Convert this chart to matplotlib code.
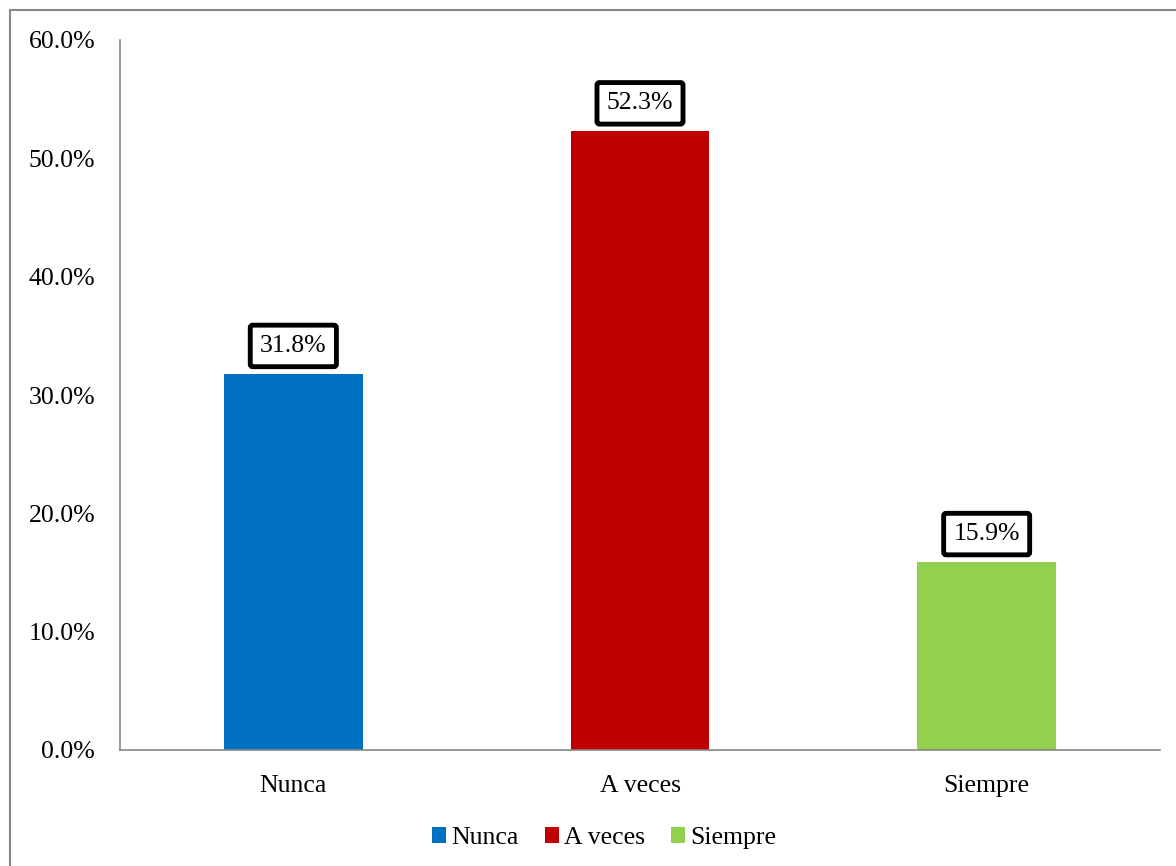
import matplotlib
matplotlib.use("Agg")
import matplotlib.pyplot as plt
from matplotlib.patches import Rectangle, Patch

categories = ["Nunca", "A veces", "Siempre"]
values = [31.8, 52.3, 15.9]
colors = ["#0070C0", "#C00000", "#92D050"]
yticks = [0, 10, 20, 30, 40, 50, 60]

plt.rcParams['font.family'] = ['Liberation Serif', 'DejaVu Serif']
FS = 18.5

fig = plt.figure(figsize=(11.76, 8.66), dpi=100)
ax = fig.add_axes([120/1176, 116/866, 1040/1176, 710/866])

x = range(len(categories))
bars = ax.bar(x, values, width=0.4, color=colors, zorder=2)

ax.set_xlim(-0.5, 2.5)
ax.set_ylim(0, 60)
ax.set_yticks(yticks)
ax.set_yticklabels([f"{v:.1f}%" for v in yticks], fontsize=FS)
ax.set_xticks(list(x))
ax.set_xticklabels(categories, fontsize=FS)
ax.tick_params(axis='y', length=0, pad=18)
ax.tick_params(axis='x', length=0, pad=18)

for s in ['top', 'right']:
    ax.spines[s].set_visible(False)
for s in ['left', 'bottom']:
    ax.spines[s].set_color('#888888')
    ax.spines[s].set_linewidth(1.2)

for xi, v in zip(x, values):
    ax.annotate(f"{v:.1f}%", (xi, v), xytext=(0, 20), textcoords='offset points',
                ha='center', va='center', fontsize=FS,
                bbox=dict(boxstyle='round,pad=0.38,rounding_size=0.1', fc='white', ec='black', lw=3.5))

handles = [Patch(facecolor=c, label=l) for c, l in zip(colors, categories)]
fig.legend(handles=handles, loc='center', bbox_to_anchor=(604/1176, 1 - 838/866), ncol=3,
           frameon=False, fontsize=FS, handlelength=0.55, handleheight=0.55,
           handletextpad=0.2, columnspacing=1.0)

fig.patches.append(Rectangle((10/1176, -0.1), 1.2, 0.1 + (866-10)/866, transform=fig.transFigure,
                             fill=False, ec='#888888', lw=1.5))

fig.savefig("out.png", dpi=100)
